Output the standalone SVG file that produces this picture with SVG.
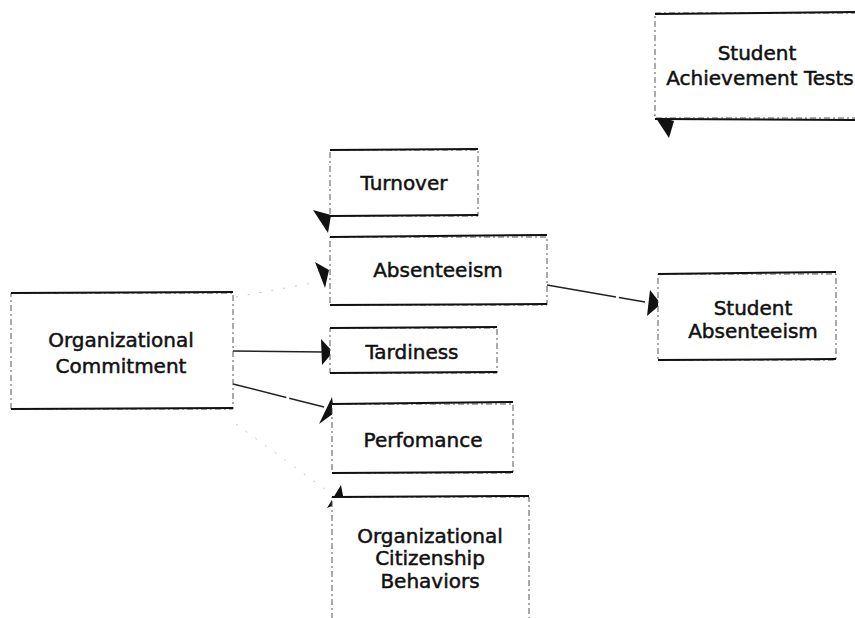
<svg xmlns="http://www.w3.org/2000/svg" width="855" height="618" viewBox="0 0 855 618">
  <style>
    .side { fill: #fff; stroke: #555; stroke-width: 1; stroke-dasharray: 6 3 2 3; }
    .edge { stroke: #111; stroke-width: 2; fill: none; }
    .label { font-family: "DejaVu Sans", "Liberation Sans", sans-serif; font-size: 20px; fill: #111; stroke: #111; stroke-width: 0.5; text-anchor: middle; }
    .link { stroke: #222; stroke-width: 1.5; fill: none; }
    .faint { stroke: #c4c4c4; stroke-width: 1; fill: none; stroke-dasharray: 2 10; }
    .head { fill: #111; }
  </style>

  <!-- connectors -->
  <g id="connectors">
    <line class="link" x1="233" y1="351" x2="324" y2="352"/>
    <polygon class="head" points="321,339 333,352 322,365"/>

    <polyline class="link" points="233,384 324,407" stroke-dasharray="55 3 40 3"/>
    <polygon class="head" points="332,397 334,413 319,424"/>

    <polyline class="link" points="547,285 645,302" stroke-width="1.2" stroke-dasharray="70 3 40"/>
    <polygon class="head" points="650,290 661,304 647,316"/>

    <line class="faint" x1="236" y1="297" x2="318" y2="282"/>
    <polygon class="head" points="315,262 329,270 325,288"/>

    <polygon class="head" points="313,210 331,215 328,233"/>

    <line class="faint" x1="236" y1="424" x2="326" y2="490"/>
    <polygon class="head" points="327,508 341,485 344,501"/>

    <polygon class="head" points="654,115 674,121 669,138"/>
  </g>

  <!-- nodes -->
  <g id="student-achievement-tests">
    <rect class="side" x="655" y="13" width="210" height="105"/>
    <line class="edge" x1="655" y1="14" x2="855" y2="12"/>
    <line class="edge" x1="655" y1="119" x2="855" y2="120"/>
    <text class="label" x="757" y="60">Student</text>
    <text class="label" x="760" y="85">Achievement Tests</text>
  </g>

  <g id="turnover">
    <rect class="side" x="330" y="150" width="148" height="66"/>
    <line class="edge" x1="330" y1="150" x2="478" y2="149"/>
    <line class="edge" x1="330" y1="216" x2="478" y2="215"/>
    <text class="label" x="404" y="190">Turnover</text>
  </g>

  <g id="absenteeism">
    <rect class="side" x="330" y="237" width="217" height="68"/>
    <line class="edge" x1="330" y1="237" x2="547" y2="235"/>
    <line class="edge" x1="330" y1="305" x2="547" y2="304"/>
    <text class="label" x="438" y="277">Absenteeism</text>
  </g>

  <g id="organizational-commitment">
    <rect class="side" x="11" y="293" width="222" height="116"/>
    <line class="edge" x1="11" y1="293" x2="233" y2="292"/>
    <line class="edge" x1="11" y1="409" x2="233" y2="408"/>
    <text class="label" x="121" y="347">Organizational</text>
    <text class="label" x="121" y="373">Commitment</text>
  </g>

  <g id="tardiness">
    <rect class="side" x="330" y="328" width="167" height="45"/>
    <line class="edge" x1="330" y1="328" x2="497" y2="327"/>
    <line class="edge" x1="330" y1="373" x2="497" y2="372"/>
    <text class="label" x="412" y="359">Tardiness</text>
  </g>

  <g id="performance">
    <rect class="side" x="332" y="404" width="181" height="69"/>
    <line class="edge" x1="332" y1="404" x2="513" y2="402"/>
    <line class="edge" x1="332" y1="473" x2="513" y2="472"/>
    <text class="label" x="423" y="447">Perfomance</text>
  </g>

  <g id="student-absenteeism">
    <rect class="side" x="658" y="274" width="178" height="86"/>
    <line class="edge" x1="658" y1="274" x2="836" y2="272"/>
    <line class="edge" x1="658" y1="360" x2="836" y2="359"/>
    <text class="label" x="753" y="315">Student</text>
    <text class="label" x="753" y="338">Absenteeism</text>
  </g>

  <g id="citizenship-behaviors">
    <rect class="side" x="332" y="497" width="197" height="130"/>
    <line class="edge" x1="332" y1="497" x2="529" y2="496"/>
    <text class="label" x="430" y="543">Organizational</text>
    <text class="label" x="430" y="565">Citizenship</text>
    <text class="label" x="430" y="588">Behaviors</text>
  </g>
</svg>
